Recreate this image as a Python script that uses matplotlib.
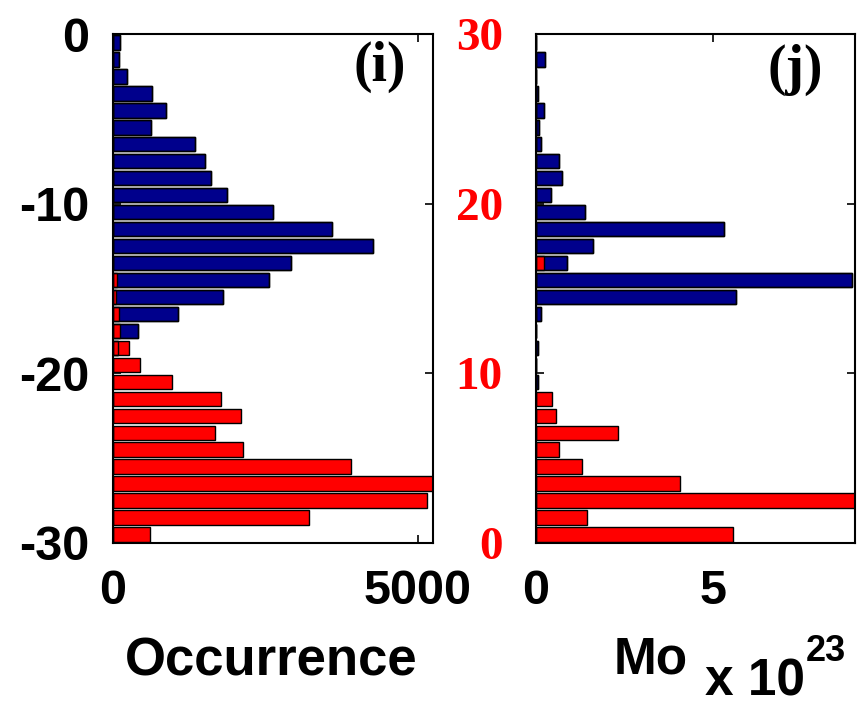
import matplotlib
matplotlib.use("Agg")
import matplotlib.pyplot as plt
import numpy as np

plt.rcParams['axes.unicode_minus'] = False

SANS = ['Liberation Sans', 'DejaVu Sans']
SERIF = ['Liberation Serif', 'DejaVu Serif']
NAVY = '#00008c'
RED = '#ff0000'

# panel (i): depth bins, top to bottom
depth_i = -np.arange(0.5, 30, 1.0)
occ_blue = [115, 100, 235, 634, 869, 617, 1344, 1514, 1601, 1869,
            2628, 3585, 4256, 2912, 2557, 1808, 1071, 404, 87, 0,
            0, 0, 0, 0, 0, 0, 0, 0, 0, 0]
occ_red = [0, 0, 0, 0, 0, 0, 0, 0, 0, 0,
           0, 0, 0, 0, 65, 44, 98, 109, 268, 443,
           962, 1765, 2093, 1672, 2136, 3895, 5246, 5141, 3213, 606]

# panel (j): bins, bottom to top, moment in units of 1e23
bins_j = np.arange(0.5, 30, 1.0)
mo_blue = [0, 0, 0, 0, 0, 0, 0, 0, 0, 0.07,
           0, 0.07, 0, 0.14, 5.65, 8.92, 0.87, 1.60, 5.29, 1.39,
           0.41, 0.73, 0.65, 0.14, 0.09, 0.23, 0.05, 0, 0.25, 0]
mo_red = [5.55, 1.43, 9.0, 4.07, 1.29, 0.65, 2.30, 0.56, 0.46, 0,
          0, 0, 0, 0, 0, 0, 0.23, 0, 0, 0,
          0, 0, 0, 0, 0, 0, 0, 0, 0, 0]


def hbars(ax, y, blue, red):
    ax.barh(y, blue, height=0.85, color=NAVY, edgecolor='black', lw=1.0, zorder=2)
    ax.barh(y, red, height=0.85, color=RED, edgecolor='black', lw=1.0, zorder=3)
    # blue outlines stay visible through the red faces
    ax.barh(y, blue, height=0.85, facecolor='none', edgecolor='black', lw=1.0, zorder=4)


def style(ax):
    for s in ax.spines.values():
        s.set_linewidth(1.5)
        s.set_zorder(5)
    ax.tick_params(direction='in', length=6, width=1.2, top=True, right=True)


fig = plt.figure(figsize=(8.6, 7.07), dpi=100)
W, H = 860.0, 707.0

ax1 = fig.add_axes([113 / W, 1 - 543 / H, 320 / W, 509 / H])
hbars(ax1, depth_i, occ_blue, occ_red)
ax1.set_xlim(0, max(occ_red))
ax1.set_ylim(-30, 0)
ax1.set_yticks([-30, -20, -10, 0])
ax1.set_xticks([0, 5000])
style(ax1)
ax1.tick_params(axis='y', pad=17)
ax1.tick_params(axis='x', pad=19)
for t in ax1.get_xticklabels() + ax1.get_yticklabels():
    t.set_fontfamily(SANS)
    t.set_fontweight('bold')
    t.set_fontsize(35)

ax2 = fig.add_axes([536 / W, 1 - 543 / H, 319 / W, 509 / H])
hbars(ax2, bins_j, mo_blue, mo_red)
ax2.set_xlim(0, max(mo_red))
ax2.set_ylim(0, 30)
ax2.set_yticks([0, 10, 20, 30])
ax2.set_xticks([0, 5])
style(ax2)
ax2.tick_params(axis='y', pad=24)
ax2.tick_params(axis='x', pad=19)
for t in ax2.get_xticklabels():
    t.set_fontfamily(SANS)
    t.set_fontweight('bold')
    t.set_fontsize(35)
for t in ax2.get_yticklabels():
    t.set_fontfamily(SERIF)
    t.set_fontweight('bold')
    t.set_fontsize(34)
    t.set_color(RED)

fig.text(380 / W, 1 - 67 / H, '(i)', family=SERIF, weight='bold', size=40,
         ha='center', va='center')
fig.text(795 / W, 1 - 70 / H, '(j)', family=SERIF, weight='bold', size=40,
         ha='center', va='center')

fig.text(271 / W, 1 - 662 / H, 'Occurrence', family=SANS, weight='bold', size=38,
         ha='center', va='center')
fig.text(651 / W, 1 - 660 / H, 'Mo', family=SANS, weight='bold', size=37,
         ha='center', va='center')
fig.text(705 / W, 1 - 696 / H, 'x 10', family=SANS, weight='bold', size=37,
         ha='left', va='baseline')
fig.text(806 / W, 1 - 661 / H, '23', family=SANS, weight='bold', size=26,
         ha='left', va='baseline')

fig.savefig('out.png', dpi=100)
